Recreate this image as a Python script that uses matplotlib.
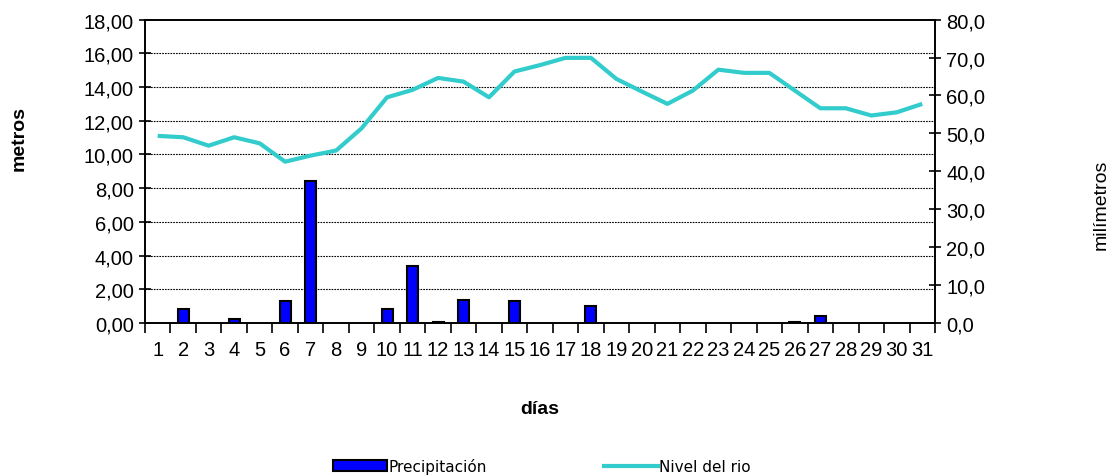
import matplotlib
matplotlib.use("Agg")
import matplotlib.pyplot as plt
from matplotlib.ticker import FixedLocator, FuncFormatter
from matplotlib.patches import Patch
from matplotlib.lines import Line2D

# daily values
dias = list(range(1, 32))
nivel_rio = [11.10, 11.02, 10.52, 11.02, 10.66, 9.57, 9.93, 10.23, 11.55, 13.39,
             13.83, 14.54, 14.32, 13.39, 14.92, 15.30, 15.73, 15.73, 14.48, 13.73,
             13.00, 13.79, 15.03, 14.84, 14.84, 13.79, 12.74, 12.74, 12.31, 12.50,
             13.00]
precipitacion = [0, 3.7, 0, 1.0, 0, 5.7, 37.5, 0, 0, 3.7,
                 14.9, 0.3, 6.1, 0, 5.7, 0, 0, 4.4, 0, 0,
                 0, 0, 0, 0, 0, 0.3, 1.8, 0, 0, 0,
                 0]

plt.rcParams["font.family"] = ["Liberation Sans", "DejaVu Sans"]

fig = plt.figure(figsize=(11.09, 4.77), dpi=100)
ax = fig.add_axes([0.1307, 0.3208, 0.7124, 0.636])
ax2 = ax.twinx()

turq = "#33CCCC"
ax.plot(dias, nivel_rio, color=turq, lw=3.0, solid_capstyle="butt", zorder=3)
# days without rain get no bar (avoid a black edge line on the axis)
dias_lluvia = [d for d, p in zip(dias, precipitacion) if p > 0]
lluvia = [p for p in precipitacion if p > 0]
ax2.bar(dias_lluvia, lluvia, width=0.43, color="#0000FF", edgecolor="black",
        linewidth=1.5, zorder=2)

ax.set_xlim(0.5, 31.5)
ax.set_ylim(0, 18)
ax2.set_ylim(0, 80)

ax.set_yticks(range(0, 19, 2))
ax.yaxis.set_major_formatter(FuncFormatter(lambda v, p: f"{v:.2f}".replace(".", ",")))
ax2.set_yticks(range(0, 81, 10))
ax2.yaxis.set_major_formatter(FuncFormatter(lambda v, p: f"{v:.1f}".replace(".", ",")))

for y in range(2, 18, 2):
    ax.axhline(y, color="black", lw=0.8, ls=(0, (1.5, 1)), zorder=1)

ax.set_xticks(dias)
ax.set_xticklabels([str(d) for d in dias])
ax.xaxis.set_minor_locator(FixedLocator([d + 0.5 for d in range(0, 32)]))
ax.tick_params(axis="x", which="major", length=0, labelsize=14.5, pad=12)
ax.tick_params(axis="x", which="minor", length=7, width=1.2, direction="out")
ax.tick_params(axis="y", length=8, width=1.2, direction="inout", labelsize=14.5, pad=4)
ax2.tick_params(axis="y", length=8, width=1.2, direction="inout", labelsize=14.5, pad=4)

for a in (ax, ax2):
    for s in a.spines.values():
        s.set_linewidth(1.2)

ax.set_ylabel("metros", fontsize=14, fontweight="bold")
ax.yaxis.set_label_coords(-0.149, 0.613)
ax.set_xlabel("días", fontsize=14, fontweight="bold", labelpad=30)
ax2.set_ylabel("milímetros", fontsize=14)
ax2.yaxis.set_label_coords(1.2, 0.392)

handles = [Patch(facecolor="#0000FF", edgecolor="black", linewidth=1.5),
           Line2D([], [], color=turq, lw=3)]
fig.legend(handles, ["Precipitación", "Nivel del rio"], loc="lower center",
           bbox_to_anchor=(0.489, -0.025), ncol=2, frameon=False,
           prop={"family": "DejaVu Sans", "size": 11},
           handlelength=3.5, handleheight=0.7, handletextpad=0.1, columnspacing=7.7)

fig.savefig("out.png", dpi=100)
